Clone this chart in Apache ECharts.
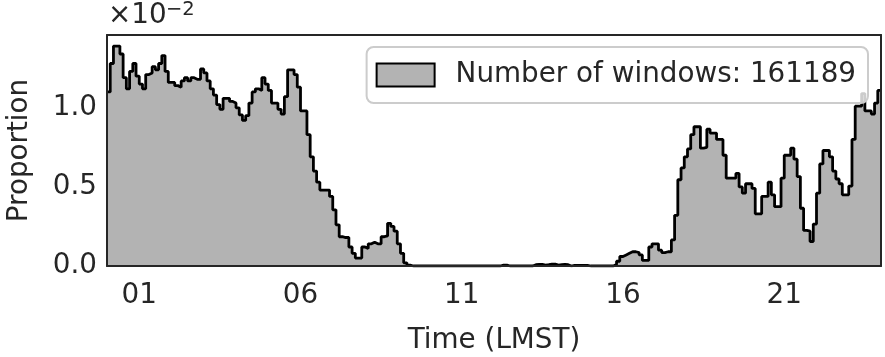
<!DOCTYPE html>
<html>
<head>
<meta charset="utf-8">
<script src="https://cdn.jsdelivr.net/npm/echarts@6/dist/echarts.min.js"></script>
<style>
  html, body { margin: 0; padding: 0; background: #fff; }
  #chart { width: 885px; height: 357px; }
</style>
</head>
<body>
<div id="chart"></div>
<script>
// proportion of windows per 0.1 h bin (units of 1e-2), LMST 00:00 -> 24:00
const BIN_WIDTH = 0.1
const propNight = [
  1.10, 1.28, 1.39, 1.39, 1.34, 1.19, 1.12, 1.23, 1.28, 1.20,
  1.15, 1.12, 1.21, 1.22, 1.26, 1.24, 1.28, 1.33, 1.23, 1.16,
  1.16, 1.14, 1.13, 1.17, 1.19, 1.17, 1.19, 1.18, 1.18, 1.245,
  1.22, 1.17, 1.12, 1.08, 1.02, 0.99, 1.06, 1.06, 1.04, 1.03,
  1.00, 0.955, 0.92, 0.95, 1.03, 1.10, 1.12, 1.11, 1.19, 1.15,
  1.11, 1.03, 1.03, 0.99, 0.96, 1.07, 1.24, 1.24, 1.21, 1.13,
]
const propMorning = [
  0.98, 0.98, 0.83, 0.69, 0.60, 0.53, 0.48, 0.48, 0.48, 0.44,
  0.355, 0.26, 0.185, 0.18, 0.18, 0.12, 0.08, 0.05, 0.05, 0.12,
  0.11, 0.14, 0.15, 0.14, 0.14, 0.185, 0.19, 0.27, 0.25, 0.22,
  0.14, 0.08, 0.02, 0.005, 0, 0, 0, 0, 0, 0,
  0, 0, 0, 0, 0, 0, 0, 0, 0, 0,
  0, 0, 0, 0, 0, 0, 0, 0, 0, 0,
]
const propAfternoon = [
  0, 0, 0.006, 0.006, 0, 0, 0, 0, 0, 0,
  0, 0, 0.008, 0.01, 0.01, 0.006, 0.008, 0.012, 0.012, 0.006,
  0.008, 0.01, 0.008, 0, 0.004, 0.004, 0.004, 0.004, 0.004, 0,
  0, 0, 0, 0, 0, 0, 0, 0.01, 0.03, 0.06,
  0.07, 0.08, 0.09, 0.09, 0.085, 0.07, 0.035, 0.035, 0.12, 0.14,
  0.14, 0.10, 0.085, 0.09, 0.09, 0.165, 0.32, 0.545, 0.62, 0.69,
]
const propEvening = [
  0.74, 0.83, 0.88, 0.88, 0.745, 0.75, 0.865, 0.84, 0.84, 0.80,
  0.80, 0.70, 0.555, 0.555, 0.555, 0.585, 0.50, 0.46, 0.52, 0.52,
  0.49, 0.33, 0.33, 0.44, 0.44, 0.53, 0.45, 0.375, 0.375, 0.555,
  0.70, 0.70, 0.745, 0.675, 0.565, 0.365, 0.225, 0.22, 0.155, 0.265,
  0.46, 0.645, 0.73, 0.73, 0.69, 0.60, 0.55, 0.52, 0.45, 0.45,
  0.505, 0.80, 1.01, 1.01, 1.09, 0.98, 0.98, 0.96, 1.03, 1.11,
]
const xTicks = [1, 6, 11, 16, 21]
const yTicks = [0, 0.5, 1.0]
const legendLabel = 'Number of windows: 161189'

const TEXT = '#262626'
const FONT = 'DejaVu Sans'
const FS = 27.8

const values = [...propNight, ...propMorning, ...propAfternoon, ...propEvening]
// left bin edges, plus closing point at 24 h
const stepData = values.map((v, i) => [+(i * BIN_WIDTH).toFixed(1), v])
stepData.push([24, values[values.length - 1]])

const frameAxis = { show: true, onZero: false, lineStyle: { color: TEXT, width: 2 } }

const chart = echarts.init(document.getElementById('chart'), null, { renderer: 'canvas' })
chart.setOption({
  animation: false,
  backgroundColor: '#fff',
  grid: { left: 107, right: 4, top: 35, bottom: 91, outerBoundsMode: 'none', containLabel: false },
  xAxis: [
    {
      type: 'value', min: 0, max: 24,
      name: 'Time (LMST)', nameLocation: 'middle', nameGap: 61,
      nameTextStyle: { color: TEXT, fontSize: FS, fontFamily: FONT },
      axisLine: frameAxis, axisTick: { show: false }, splitLine: { show: false },
      axisLabel: {
        customValues: xTicks, margin: 16,
        color: TEXT, fontSize: FS, fontFamily: FONT,
        formatter: (v) => String(v).padStart(2, '0'),
      },
      z: 10,
    },
    {
      type: 'value', min: 0, max: 24, position: 'top',
      axisLine: frameAxis, axisTick: { show: false }, axisLabel: { show: false }, splitLine: { show: false },
      z: 10,
    },
  ],
  yAxis: [
    {
      type: 'value', min: 0, max: 1.46,
      name: 'Proportion', nameLocation: 'middle', nameGap: 73, nameRotate: 90,
      nameTextStyle: { color: TEXT, fontSize: FS, fontFamily: FONT },
      axisLine: frameAxis, axisTick: { show: false }, splitLine: { show: false },
      axisLabel: {
        customValues: yTicks, margin: 10,
        color: TEXT, fontSize: FS, fontFamily: FONT,
        formatter: (v) => v.toFixed(1),
      },
      z: 10,
    },
    {
      type: 'value', min: 0, max: 1.46, position: 'right',
      axisLine: frameAxis, axisTick: { show: false }, axisLabel: { show: false }, splitLine: { show: false },
      z: 10,
    },
  ],
  legend: {
    data: [legendLabel],
    right: 17, top: 47,
    icon: 'rect', itemWidth: 58, itemHeight: 23,
    padding: [14, 12, 14, 9],
    backgroundColor: 'rgba(255,255,255,0.8)',
    borderColor: '#cccccc', borderWidth: 2, borderRadius: 7,
    itemStyle: { color: '#b3b3b3', borderColor: '#000', borderWidth: 2 },
    textStyle: { color: TEXT, fontSize: FS, fontFamily: FONT, padding: [0, 0, 0, 16] },
  },
  graphic: [
    { type: 'text', left: 108, top: 2, style: { text: '×10', fill: TEXT, fontSize: FS, fontFamily: FONT } },
    { type: 'text', left: 166, top: 0, style: { text: '−2', fill: TEXT, fontSize: 19.5, fontFamily: FONT } },
  ],
  series: [
    {
      name: legendLabel,
      type: 'line',
      step: 'end',
      data: stepData,
      symbol: 'none',
      itemStyle: { color: '#b3b3b3', borderColor: '#000', borderWidth: 2 },
      lineStyle: { color: '#000', width: 2.8 },
      areaStyle: { color: '#b3b3b3', opacity: 1 },
      z: 2,
    },
  ],
})
</script>
</body>
</html>
